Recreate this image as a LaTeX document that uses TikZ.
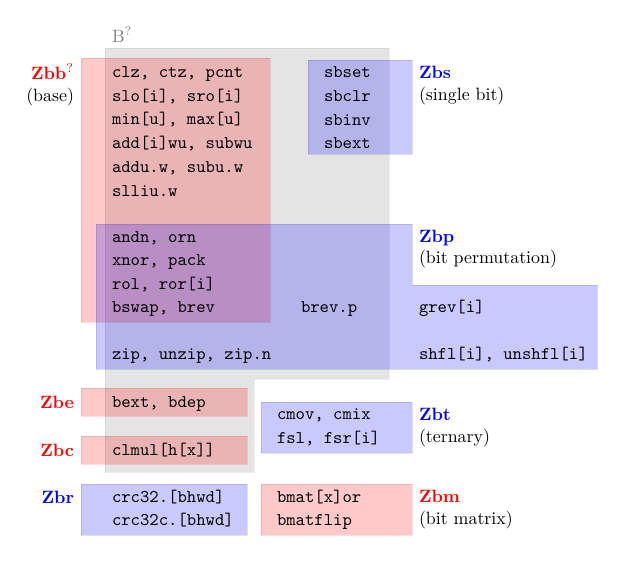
\documentclass[tikz,border=0pt]{standalone}
\usepackage{xcolor}
\begin{document}
\begin{tikzpicture}[x=0.5602pt,y=-0.5602pt,
  every node/.style={inner sep=0pt,outer sep=0pt},
  graybox/.style={fill=black,fill opacity=0.105,draw=black,draw opacity=0.06,line width=0.5pt},
  redbox/.style={fill=red,fill opacity=0.21,draw=red!60!black,draw opacity=0.12,line width=0.5pt},
  bluebox/.style={fill=blue,fill opacity=0.21,draw=blue!60!black,draw opacity=0.12,line width=0.5pt},
  op/.style={anchor=base west,font=\ttfamily},
  rlab/.style={anchor=base west,text=red,font=\bfseries},
  blab/.style={anchor=base west,text=blue,font=\bfseries},
  rlabl/.style={anchor=base east,text=red,font=\bfseries},
  blabl/.style={anchor=base east,text=blue,font=\bfseries},
  desc/.style={anchor=base west},
  descl/.style={anchor=base east}]
\useasboundingbox (0,0) rectangle (628,561);
% regions
\path[graybox] (105,48) -- (389,48) -- (389,379) -- (254,379) -- (254,472) -- (105,472) -- cycle;
\path[redbox] (81,58) rectangle (270,322);
\path[bluebox] (308,60) rectangle (412,154);
\path[bluebox] (96,224) -- (412,224) -- (412,285) -- (597,285) -- (597,369) -- (96,369) -- cycle;
\path[redbox] (81,388) rectangle (247,416);
\path[redbox] (81,436) rectangle (247,464);
\path[bluebox] (261,402) rectangle (412,453);
\path[bluebox] (81,484) rectangle (247,535);
\path[redbox] (261,484) rectangle (412,535);
% group labels
\node[anchor=base west,text=black!50] (lB) at (112,42) {B$^{?}$};
\node[rlabl] (lzbb) at (74,79) {Zbb$^{?}$};
\node[descl] (dzbb) at (74,101.5) {(base)};
\node[blab] (lzbs) at (419,78) {Zbs};
\node[desc] (dzbs) at (419,100.5) {(single bit)};
\node[blab] (lzbp) at (419,242) {Zbp};
\node[desc] (dzbp) at (419,263.5) {(bit permutation)};
\node[rlabl] (lzbe) at (74,408) {Zbe};
\node[rlabl] (lzbc) at (74,456) {Zbc};
\node[blab] (lzbt) at (419,420) {Zbt};
\node[desc] (dzbt) at (419,442.5) {(ternary)};
\node[blabl] (lzbr) at (74,503) {Zbr};
\node[rlab] (lzbm) at (419,502) {Zbm};
\node[desc] (dzbm) at (419,524.5) {(bit matrix)};
% instructions
\node[op] (i1) at (112,77.5) {clz, ctz, pcnt};
\node[op] (i2) at (112,101.2) {slo[i], sro[i]};
\node[op] (i3) at (112,124.9) {min[u], max[u]};
\node[op] (i4) at (112,148.6) {add[i]wu, subwu};
\node[op] (i5) at (112,172.3) {addu.w, subu.w};
\node[op] (i6) at (112,196) {slliu.w};
\node[op] (s1) at (324,77.7) {sbset};
\node[op] (s2) at (324,101.4) {sbclr};
\node[op] (s3) at (324,125.1) {sbinv};
\node[op] (s4) at (324,148.8) {sbext};
\node[op] (p1) at (112,242) {andn, orn};
\node[op] (p2) at (112,265.5) {xnor, pack};
\node[op] (p3) at (112,289) {rol, ror[i]};
\node[op] (p4) at (112,312) {bswap, brev};
\node[op] (p5) at (301,312) {brev.p};
\node[op] (p6) at (419,312) {grev[i]};
\node[op] (p7) at (112,359) {zip, unzip, zip.n};
\node[op] (p8) at (419,359) {shfl[i], unshfl[i]};
\node[op] (e1) at (112,407) {bext, bdep};
\node[op] (c1) at (112,455) {clmul[h[x]]};
\node[op] (t1) at (277,419) {cmov, cmix};
\node[op] (t2) at (277,443) {fsl, fsr[i]};
\node[op] (r1) at (112,502) {crc32.[bhwd]};
\node[op] (r2) at (112,525.5) {crc32c.[bhwd]};
\node[op] (m1) at (277,502) {bmat[x]or};
\node[op] (m2) at (277,525) {bmatflip};
\end{tikzpicture}
\end{document}
